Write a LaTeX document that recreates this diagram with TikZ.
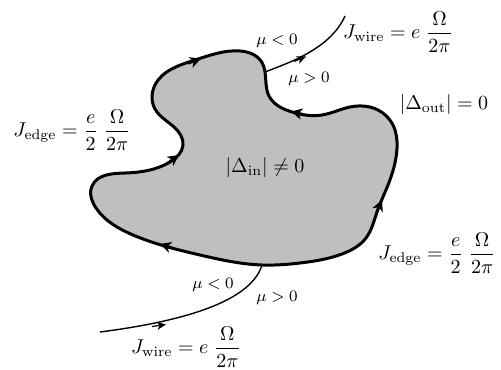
\documentclass[tikz,border=0pt]{standalone}
\usepackage{amsmath}
\usetikzlibrary{arrows.meta,hobby}
\begin{document}
\begin{tikzpicture}[x=0.5pt,y=-0.5pt,
  blob/.style={line width=1.5pt, draw=black, fill=black!25},
  wire/.style={line width=0.7pt},
  etip/.style={-{Stealth[length=5.5pt,width=5.5pt,inset=1.5pt]}, line width=1.2pt},
  wtip/.style={-{Stealth[length=4.5pt,width=4pt,inset=1.2pt]}, line width=0.6pt},
  lbl/.style={inner sep=0pt},
  mu/.style={inner sep=0pt, font=\footnotesize}]
\useasboundingbox (0,0) rectangle (501,369);
% junction points
\coordinate (ntop) at (265,72);
\coordinate (nbot) at (262,265);
\coordinate (wtopend) at (345,16);
\coordinate (wbotend) at (100,332);
% sample
\draw[blob, use Hobby shortcut, closed=true]
  (262,265) .. (200,255) .. (133,235) .. (96,208) .. (92,186) .. (125,173)
  .. (170,162) .. (183,145) .. (174,127) .. (155,109) .. (155,85)
  .. (195,60) .. (240,51) .. (261,61) .. (265,72) .. (269,96) .. (292,112)
  .. (322,115) .. (350,107) .. (378,110) .. (393,125) .. (397,148)
  .. (388,185) .. (377,212) .. (366,238) .. (342,254) .. (300,263);
% wires
\draw[wire] (ntop) .. controls (285,64) and (330,50) .. (wtopend);
\draw[wire] (wbotend) .. controls (170,323) and (250,305) .. (nbot);
% arrow tips on the edge
\coordinate (a1s) at (188,63.5); \coordinate (a1e) at (201,58.5);
\coordinate (a2s) at (167,163.5); \coordinate (a2e) at (179,155);
\coordinate (a3s) at (304,114.5); \coordinate (a3e) at (291,111.5);
\coordinate (a4s) at (376,214); \coordinate (a4e) at (382,200);
\coordinate (a5s) at (174,248.5); \coordinate (a5e) at (160,244);
\draw[etip] (a1s) -- (a1e);
\draw[etip] (a2s) -- (a2e);
\draw[etip] (a3s) -- (a3e);
\draw[etip] (a4s) -- (a4e);
\draw[etip] (a5s) -- (a5e);
% arrow tips on the wires
\coordinate (w1s) at (294,61.5); \coordinate (w1e) at (306,56.5);
\coordinate (w2s) at (152,326.5); \coordinate (w2e) at (166,324.5);
\draw[wtip] (w1s) -- (w1e);
\draw[wtip] (w2s) -- (w2e);
% labels
\node[lbl] (jel) at (72,130) {$J_{\mathrm{edge}} = \dfrac{e}{2}\;\dfrac{\Omega}{2\pi}$};
\node[lbl] (jer) at (437,253) {$J_{\mathrm{edge}} = \dfrac{e}{2}\;\dfrac{\Omega}{2\pi}$};
\node[lbl] (jwt) at (398,32) {$J_{\mathrm{wire}} = e\;\dfrac{\Omega}{2\pi}$};
\node[lbl] (jwb) at (186,347) {$J_{\mathrm{wire}} = e\;\dfrac{\Omega}{2\pi}$};
\node[lbl] (din) at (265,167) {$|\Delta_{\mathrm{in}}| \neq 0$};
\node[lbl] (dout) at (444,104) {$|\Delta_{\mathrm{out}}| = 0$};
\node[mu] (m1) at (277,41) {$\mu<0$};
\node[mu] (m2) at (309,79) {$\mu>0$};
\node[mu] (m3) at (213,285) {$\mu<0$};
\node[mu] (m4) at (277,298) {$\mu>0$};
\end{tikzpicture}
\end{document}
